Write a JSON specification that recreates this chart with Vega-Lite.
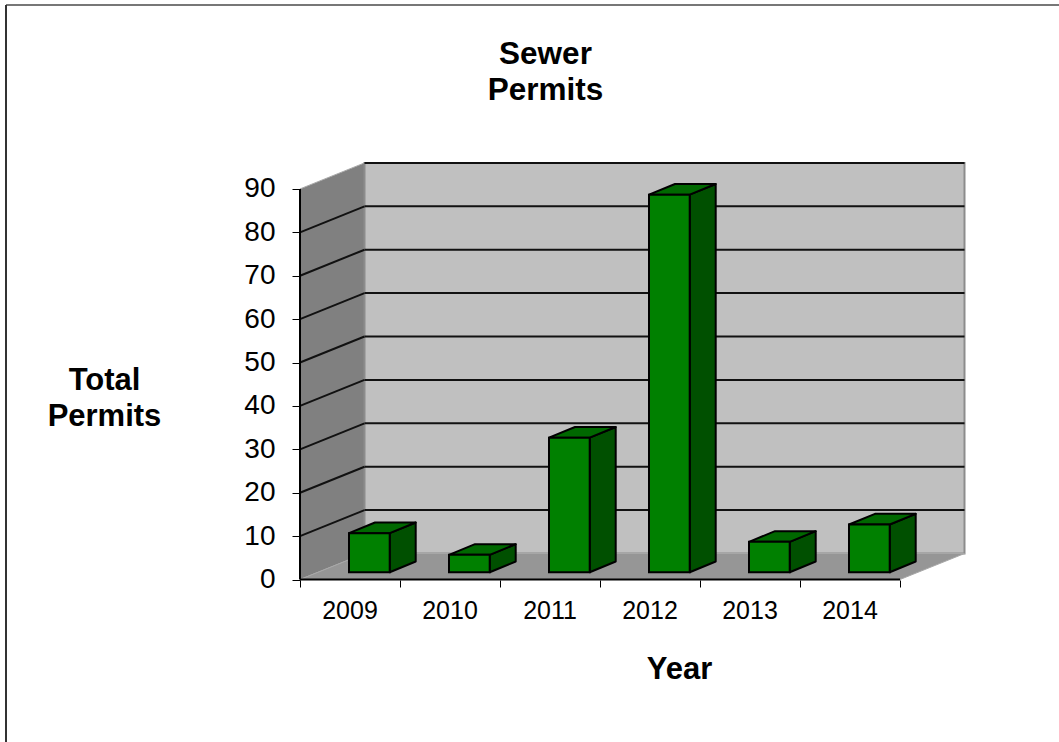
{
"$schema":"https://vega.github.io/schema/vega-lite/v6.json",
"width":1059,"height":742,"padding":0,"autosize":{"type":"none"},
"background":"white",
"config":{"view":{"stroke":null},"font":"Liberation Sans","axis":{"grid":false}},
"title":{"text":["Sewer","Permits"],"anchor":"middle","frame":"group","fontSize":31.5,"fontWeight":"bold","color":"black","lineHeight":36,"dx":16,"dy":131,"baseline":"alphabetic","offset":0},
"datasets":{
"bars":[{"year":2009,"value":9},{"year":2010,"value":4},{"year":2011,"value":31},{"year":2012,"value":87},{"year":2013,"value":7},{"year":2014,"value":11}],
"depth":[{"d":0},{"d":1}],
"ticks":[{"t":10},{"t":20},{"t":30},{"t":40},{"t":50},{"t":60},{"t":70},{"t":80},{"t":90}]
},
"layer":[
{"data":{"name":"depth"},"mark":{"type":"area","orient":"vertical","fill":"#808080","stroke":"#a8a8a8","strokeWidth":1},
 "transform":[{"calculate":"datum.d*0.645","as":"x"},{"calculate":"datum.d*5.99","as":"y"},{"calculate":"90+datum.d*5.99","as":"y2"}],
 "encoding":{
  "x":{"field":"x","type":"quantitative","scale":{"domain":[-3,7.59],"range":[0,1059],"nice":false,"zero":false},
   "title":"Year","axis":{"orient":"bottom","offset":-162,"values":[0,1,2,3,4,5,6],"labels":false,"domain":false,"tickSize":7,"tickColor":"black","tickWidth":1,"titleFontSize":31,"titleFontWeight":"bold","titleColor":"black","titleX":679,"titleY":98,"titleAlign":"center","titleBaseline":"alphabetic"}},
  "y":{"field":"y","type":"quantitative","stack":null,"scale":{"domain":[-37.44,133.53],"range":[742,0],"nice":false,"zero":false},
   "title":["Total","Permits"],"axis":{"orient":"left","offset":-300,"values":[0,10,20,30,40,50,60,70,80,90],"domain":false,"tickSize":8,"tickColor":"black","tickWidth":1,"labelFontSize":28,"labelColor":"black","labelPadding":17,"titleFontSize":31,"titleFontWeight":"bold","titleColor":"black","titleAngle":0,"titleX":-196,"titleY":389,"titleAlign":"center","titleBaseline":"alphabetic","titleLineHeight":36}},
  "y2":{"field":"y2"}}},
{"data":{"name":"depth"},"transform":[{"filter":"datum.d==1"}],"mark":{"type":"rect","fill":"#c0c0c0","stroke":"#8c8c8c","strokeWidth":2},
 "encoding":{"x":{"datum":0.645,"type":"quantitative"},"x2":{"datum":6.645},"y":{"datum":5.99,"type":"quantitative"},"y2":{"datum":95.99}}},
{"data":{"name":"depth"},"mark":{"type":"area","orient":"horizontal","fill":"#969696","stroke":"#a8a8a8","strokeWidth":1},
 "transform":[{"calculate":"datum.d*0.645","as":"x"},{"calculate":"6+datum.d*0.645","as":"x2"},{"calculate":"datum.d*5.99","as":"y"}],
 "encoding":{"x":{"field":"x","type":"quantitative","stack":null},"x2":{"field":"x2"},"y":{"field":"y","type":"quantitative"}}},
{"data":{"name":"ticks"},"transform":[{"filter":"datum.t<90"},{"calculate":"datum.t+5.99","as":"b"}],"mark":{"type":"rule","color":"#111111","strokeWidth":2},
 "encoding":{"x":{"datum":0,"type":"quantitative"},"x2":{"datum":0.645},"y":{"field":"t","type":"quantitative"},"y2":{"field":"b"}}},
{"data":{"name":"ticks"},"transform":[{"calculate":"datum.t+5.99","as":"b"}],"mark":{"type":"rule","color":"#111111","strokeWidth":2},
 "encoding":{"x":{"datum":0.645,"type":"quantitative"},"x2":{"datum":6.645},"y":{"field":"b","type":"quantitative"}}},
{"data":{"name":"depth"},"transform":[{"filter":"datum.d==0"}],"mark":{"type":"rule","color":"#000000","strokeWidth":2},
 "encoding":{"x":{"datum":0,"type":"quantitative"},"y":{"datum":0,"type":"quantitative"},"y2":{"datum":90}}},
{"data":{"name":"depth"},"transform":[{"filter":"datum.d==0"}],"mark":{"type":"rule","color":"#000000","strokeWidth":2},
 "encoding":{"x":{"datum":0,"type":"quantitative"},"x2":{"datum":6},"y":{"datum":0,"type":"quantitative"}}},
{"data":{"name":"bars"},"transform":[{"calculate":"[0,1]","as":"d"},{"flatten":["d"]},{"calculate":"datum.year-2009+0.897+datum.d*0.26","as":"x"},{"calculate":"1.68+datum.d*2.46","as":"y"},{"calculate":"1.68+datum.value+datum.d*2.46","as":"y2"}],
 "mark":{"type":"area","orient":"vertical","fill":"#005000","stroke":"#000000","strokeWidth":2,"strokeJoin":"round"},
 "encoding":{"detail":{"field":"year"},"x":{"field":"x","type":"quantitative"},"y":{"field":"y","type":"quantitative","stack":null},"y2":{"field":"y2"}}},
{"data":{"name":"bars"},"transform":[{"calculate":"[0,1]","as":"d"},{"flatten":["d"]},{"calculate":"datum.year-2009+0.49+datum.d*0.26","as":"x"},{"calculate":"datum.year-2009+0.897+datum.d*0.26","as":"x2"},{"calculate":"1.68+datum.value+datum.d*2.46","as":"y"}],
 "mark":{"type":"area","orient":"horizontal","fill":"#006800","stroke":"#000000","strokeWidth":2,"strokeJoin":"round"},
 "encoding":{"detail":{"field":"year"},"x":{"field":"x","type":"quantitative","stack":null},"x2":{"field":"x2"},"y":{"field":"y","type":"quantitative"}}},
{"data":{"name":"bars"},"transform":[{"calculate":"datum.year-2009+0.49","as":"x"},{"calculate":"datum.year-2009+0.897","as":"x2"},{"calculate":"1.68","as":"y"},{"calculate":"1.68+datum.value","as":"y2"}],
 "mark":{"type":"rect","fill":"#008000","stroke":"#000000","strokeWidth":2},
 "encoding":{"x":{"field":"x","type":"quantitative"},"x2":{"field":"x2"},"y":{"field":"y","type":"quantitative"},"y2":{"field":"y2"}}},
{"data":{"name":"bars"},"transform":[{"calculate":"datum.year-2009+0.5","as":"x"}],
 "mark":{"type":"text","fontSize":25,"color":"black","baseline":"alphabetic","align":"center","dy":39},
 "encoding":{"text":{"field":"year","type":"nominal"},"x":{"field":"x","type":"quantitative"},"y":{"datum":0,"type":"quantitative"}}},
{"data":{"name":"depth"},"transform":[{"filter":"datum.d==0"}],"mark":{"type":"rule","color":"#777777","strokeWidth":2},
 "encoding":{"x":{"datum":-2.94,"type":"quantitative"},"x2":{"datum":7.59},"y":{"datum":132.4,"type":"quantitative"}}},
{"data":{"name":"depth"},"transform":[{"filter":"datum.d==0"}],"mark":{"type":"rule","color":"#333333","strokeWidth":2},
 "encoding":{"x":{"datum":-2.94,"type":"quantitative"},"y":{"datum":132.4,"type":"quantitative"},"y2":{"datum":-37.44}}}
]
}
